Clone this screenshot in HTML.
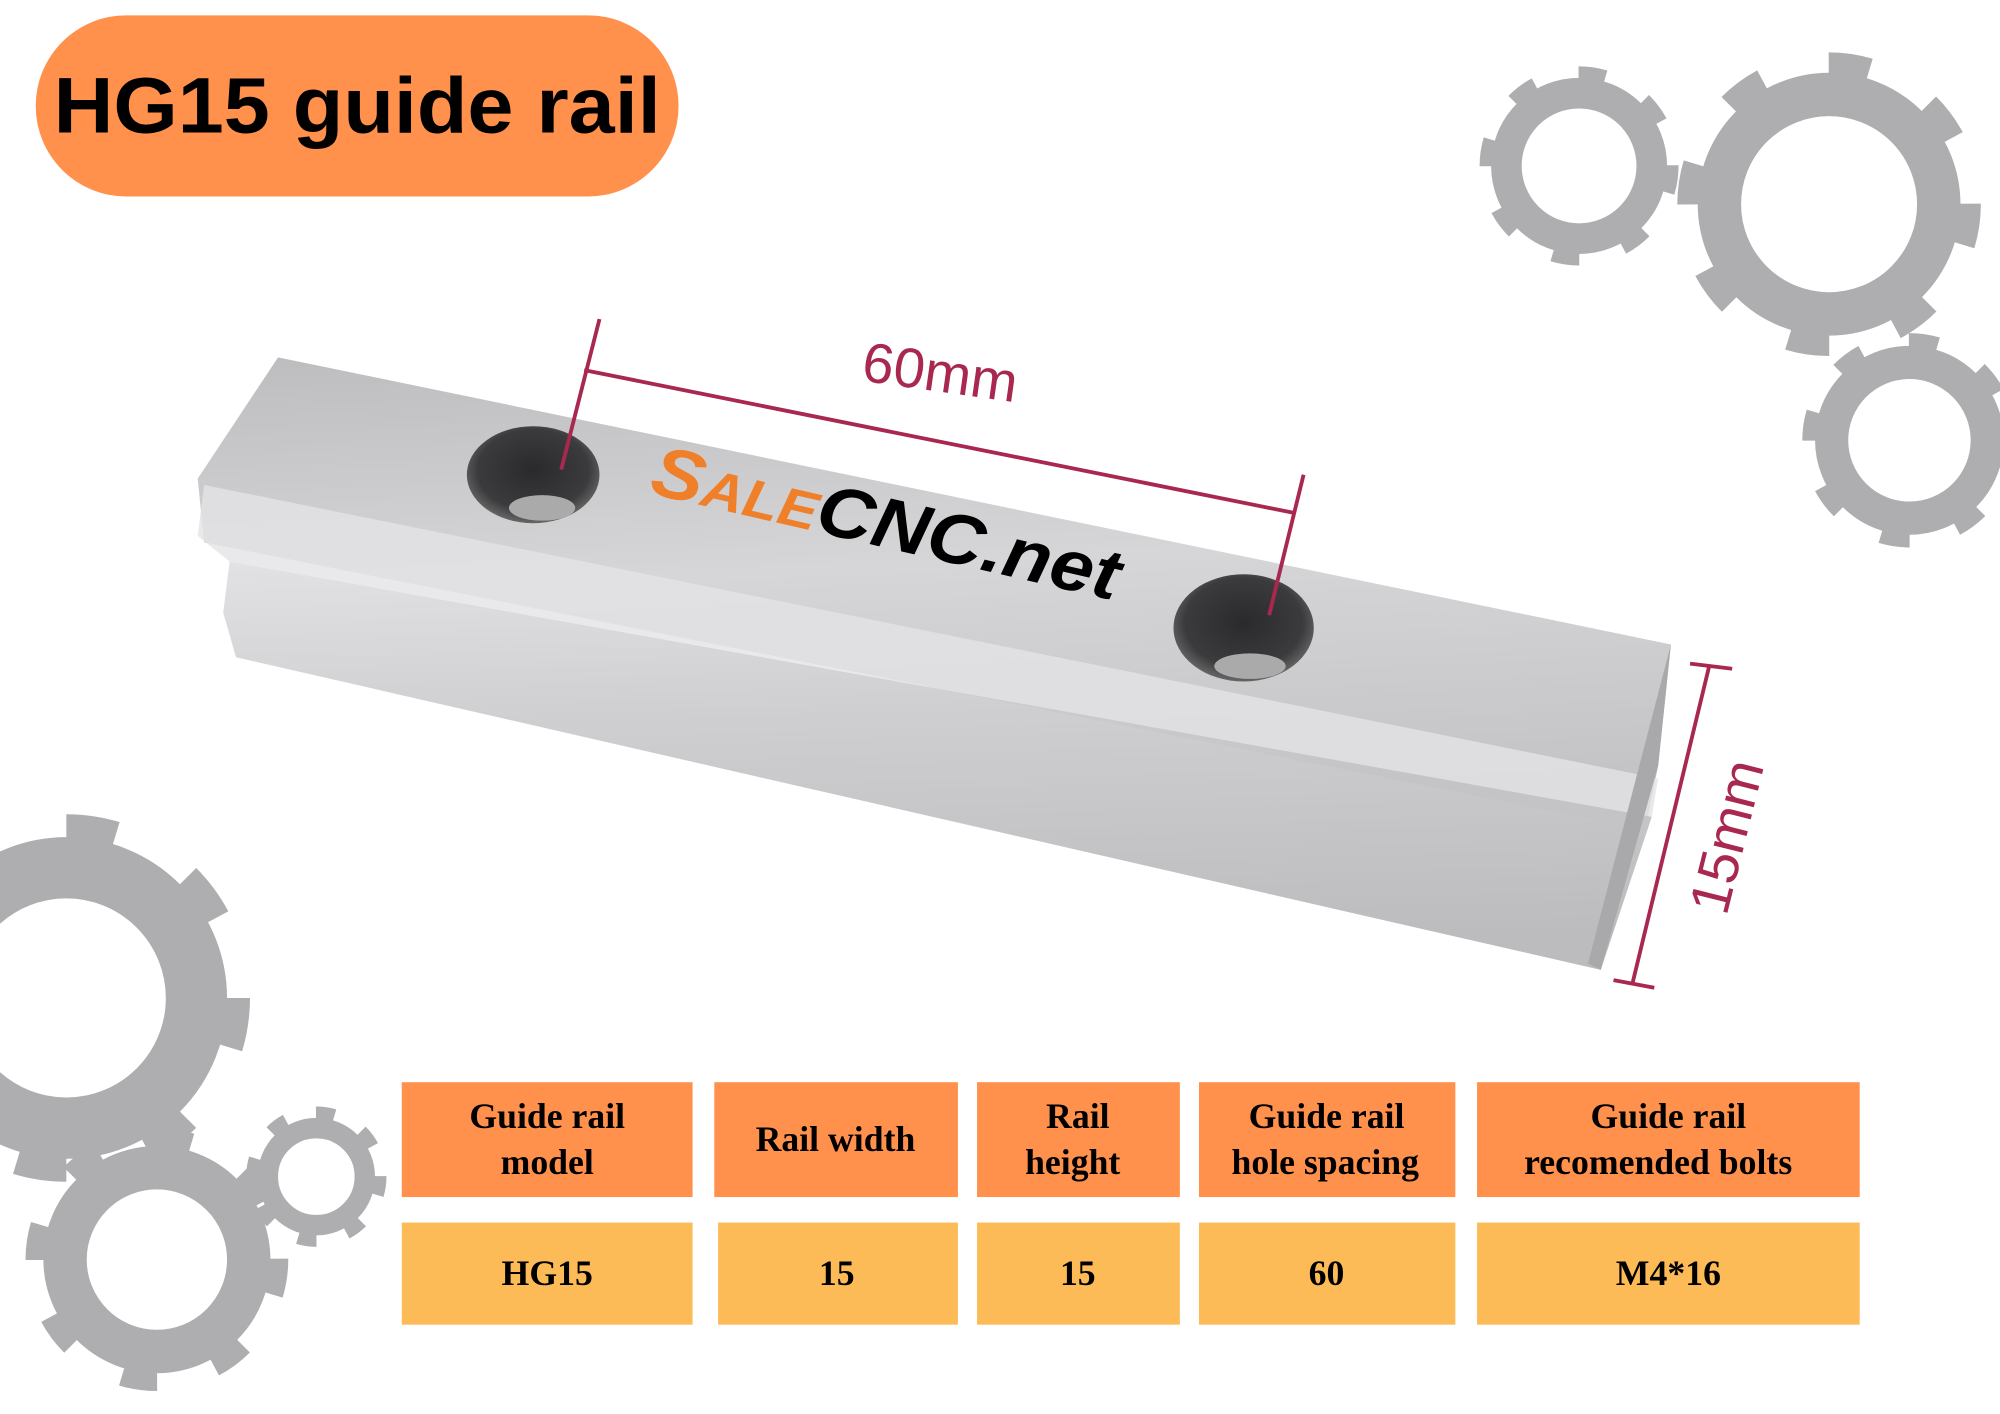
<!DOCTYPE html>
<html><head><meta charset="utf-8"><style>
html,body{margin:0;padding:0;background:#fff;}
svg{display:block;}
</style></head><body>
<svg width="2000" height="1414" viewBox="0 0 1568 1108" preserveAspectRatio="none" xmlns="http://www.w3.org/2000/svg">
<defs>
<linearGradient id="top" x1="0" y1="0" x2="0.15" y2="1">
<stop offset="0" stop-color="#bdbdbf"/><stop offset="0.5" stop-color="#d6d6d8"/><stop offset="1" stop-color="#c4c4c6"/></linearGradient>
<linearGradient id="front" x1="0" y1="0" x2="0.1" y2="1">
<stop offset="0" stop-color="#e2e2e4"/><stop offset="0.4" stop-color="#cfcfd1"/><stop offset="1" stop-color="#bcbcbe"/></linearGradient>
<radialGradient id="hole" cx="0.5" cy="0.45" r="0.6"><stop offset="0" stop-color="#2a2a2c"/><stop offset="0.7" stop-color="#3b3b3d"/><stop offset="1" stop-color="#777"/></radialGradient>
</defs>
<rect width="1568" height="1108" fill="#fff"/>

<rect x="28" y="12" width="504" height="142" rx="71" fill="#ff914d"/>
<text x="42" y="104" font-family="Liberation Sans, sans-serif" font-weight="bold" font-size="62" textLength="476" lengthAdjust="spacingAndGlyphs" fill="#000">HG15 guide rail</text>

<g fill="none" stroke="#aeaeb0">
 <circle cx="1434" cy="160" r="86" stroke-width="34"/>
 <circle cx="1434" cy="160" r="108" stroke-width="22" pathLength="16" stroke-dasharray="0.75 1.25"/>
 <circle cx="1238" cy="130" r="57" stroke-width="24"/>
 <circle cx="1238" cy="130" r="70" stroke-width="16" pathLength="16" stroke-dasharray="0.75 1.25"/>
 <circle cx="1497" cy="345" r="61" stroke-width="26"/>
 <circle cx="1497" cy="345" r="76" stroke-width="16" pathLength="16" stroke-dasharray="0.75 1.25"/>
 <circle cx="52" cy="782" r="102" stroke-width="48"/>
 <circle cx="52" cy="782" r="132" stroke-width="24" pathLength="16" stroke-dasharray="0.75 1.25"/>
 <circle cx="123" cy="987" r="72" stroke-width="34"/>
 <circle cx="123" cy="987" r="94" stroke-width="18" pathLength="16" stroke-dasharray="0.75 1.25"/>
 <circle cx="248" cy="922" r="38" stroke-width="16"/>
 <circle cx="248" cy="922" r="50" stroke-width="10" pathLength="16" stroke-dasharray="0.75 1.25"/>
</g>

<polygon points="180,440 1295,640 1255,760 185,515 175,480" fill="url(#front)"/>
<polygon points="218,280 1310,505 1300,600 1290,650 160,425 155,375" fill="url(#top)"/>
<polygon points="160,380 1300,610 1295,640 180,440 155,420" fill="#e4e4e6" opacity="0.8"/>
<polygon points="1310,505 1300,600 1255,760 1245,755 1280,620" fill="#a9a9ab"/>
<ellipse cx="418" cy="372" rx="52" ry="38" fill="url(#hole)"/>
<ellipse cx="425" cy="398" rx="26" ry="10" fill="#aaa"/>
<ellipse cx="975" cy="492" rx="55" ry="42" fill="url(#hole)"/>
<ellipse cx="980" cy="522" rx="28" ry="10" fill="#aaa"/>

<g transform="rotate(13 690 420)">
<text x="505" y="428" font-family="Liberation Sans, sans-serif" font-weight="bold" font-style="italic" font-size="56" fill="#f07f2a" textLength="375" lengthAdjust="spacingAndGlyphs">S<tspan font-size="42">ALE</tspan><tspan fill="#000" font-size="56">CNC.net</tspan></text>
</g>

<g stroke="#a8284f" stroke-width="3" fill="none">
<line x1="470" y1="250" x2="440" y2="368"/>
<line x1="458" y1="290" x2="1015" y2="402"/>
<line x1="1022" y1="372" x2="995" y2="482"/>
<line x1="1340" y1="522" x2="1280" y2="770"/>
<line x1="1325" y1="520" x2="1358" y2="524"/>
<line x1="1265" y1="768" x2="1297" y2="774"/>
</g>
<text x="675" y="308" transform="rotate(8 745 300)" font-family="Liberation Sans, sans-serif" font-size="44" fill="#a8284f">60mm</text>
<text x="1300" y="690" transform="rotate(-76 1345 670)" font-family="Liberation Sans, sans-serif" font-size="44" fill="#a8284f">15mm</text>

<g fill="#ff914d">
<rect x="315" y="848" width="228" height="90"/>
<rect x="560" y="848" width="191" height="90"/>
<rect x="766" y="848" width="159" height="90"/>
<rect x="940" y="848" width="201" height="90"/>
<rect x="1158" y="848" width="300" height="90"/>
</g>
<g fill="#fdbb57">
<rect x="315" y="958" width="228" height="80"/>
<rect x="563" y="958" width="188" height="80"/>
<rect x="766" y="958" width="159" height="80"/>
<rect x="940" y="958" width="201" height="80"/>
<rect x="1158" y="958" width="300" height="80"/>
</g>
<g font-family="Liberation Serif, serif" font-weight="bold" font-size="28" fill="#000" text-anchor="middle">
<text x="429" y="884">Guide rail</text><text x="429" y="920">model</text>
<text x="655" y="902">Rail width</text>
<text x="845" y="884">Rail</text><text x="841" y="920">height</text>
<text x="1040" y="884">Guide rail</text><text x="1039" y="920">hole spacing</text>
<text x="1308" y="884">Guide rail</text><text x="1300" y="920">recomended bolts</text>
<text x="429" y="1007">HG15</text>
<text x="656" y="1007">15</text>
<text x="845" y="1007">15</text>
<text x="1040" y="1007">60</text>
<text x="1308" y="1007">M4*16</text>
</g>
</svg>
</body></html>
